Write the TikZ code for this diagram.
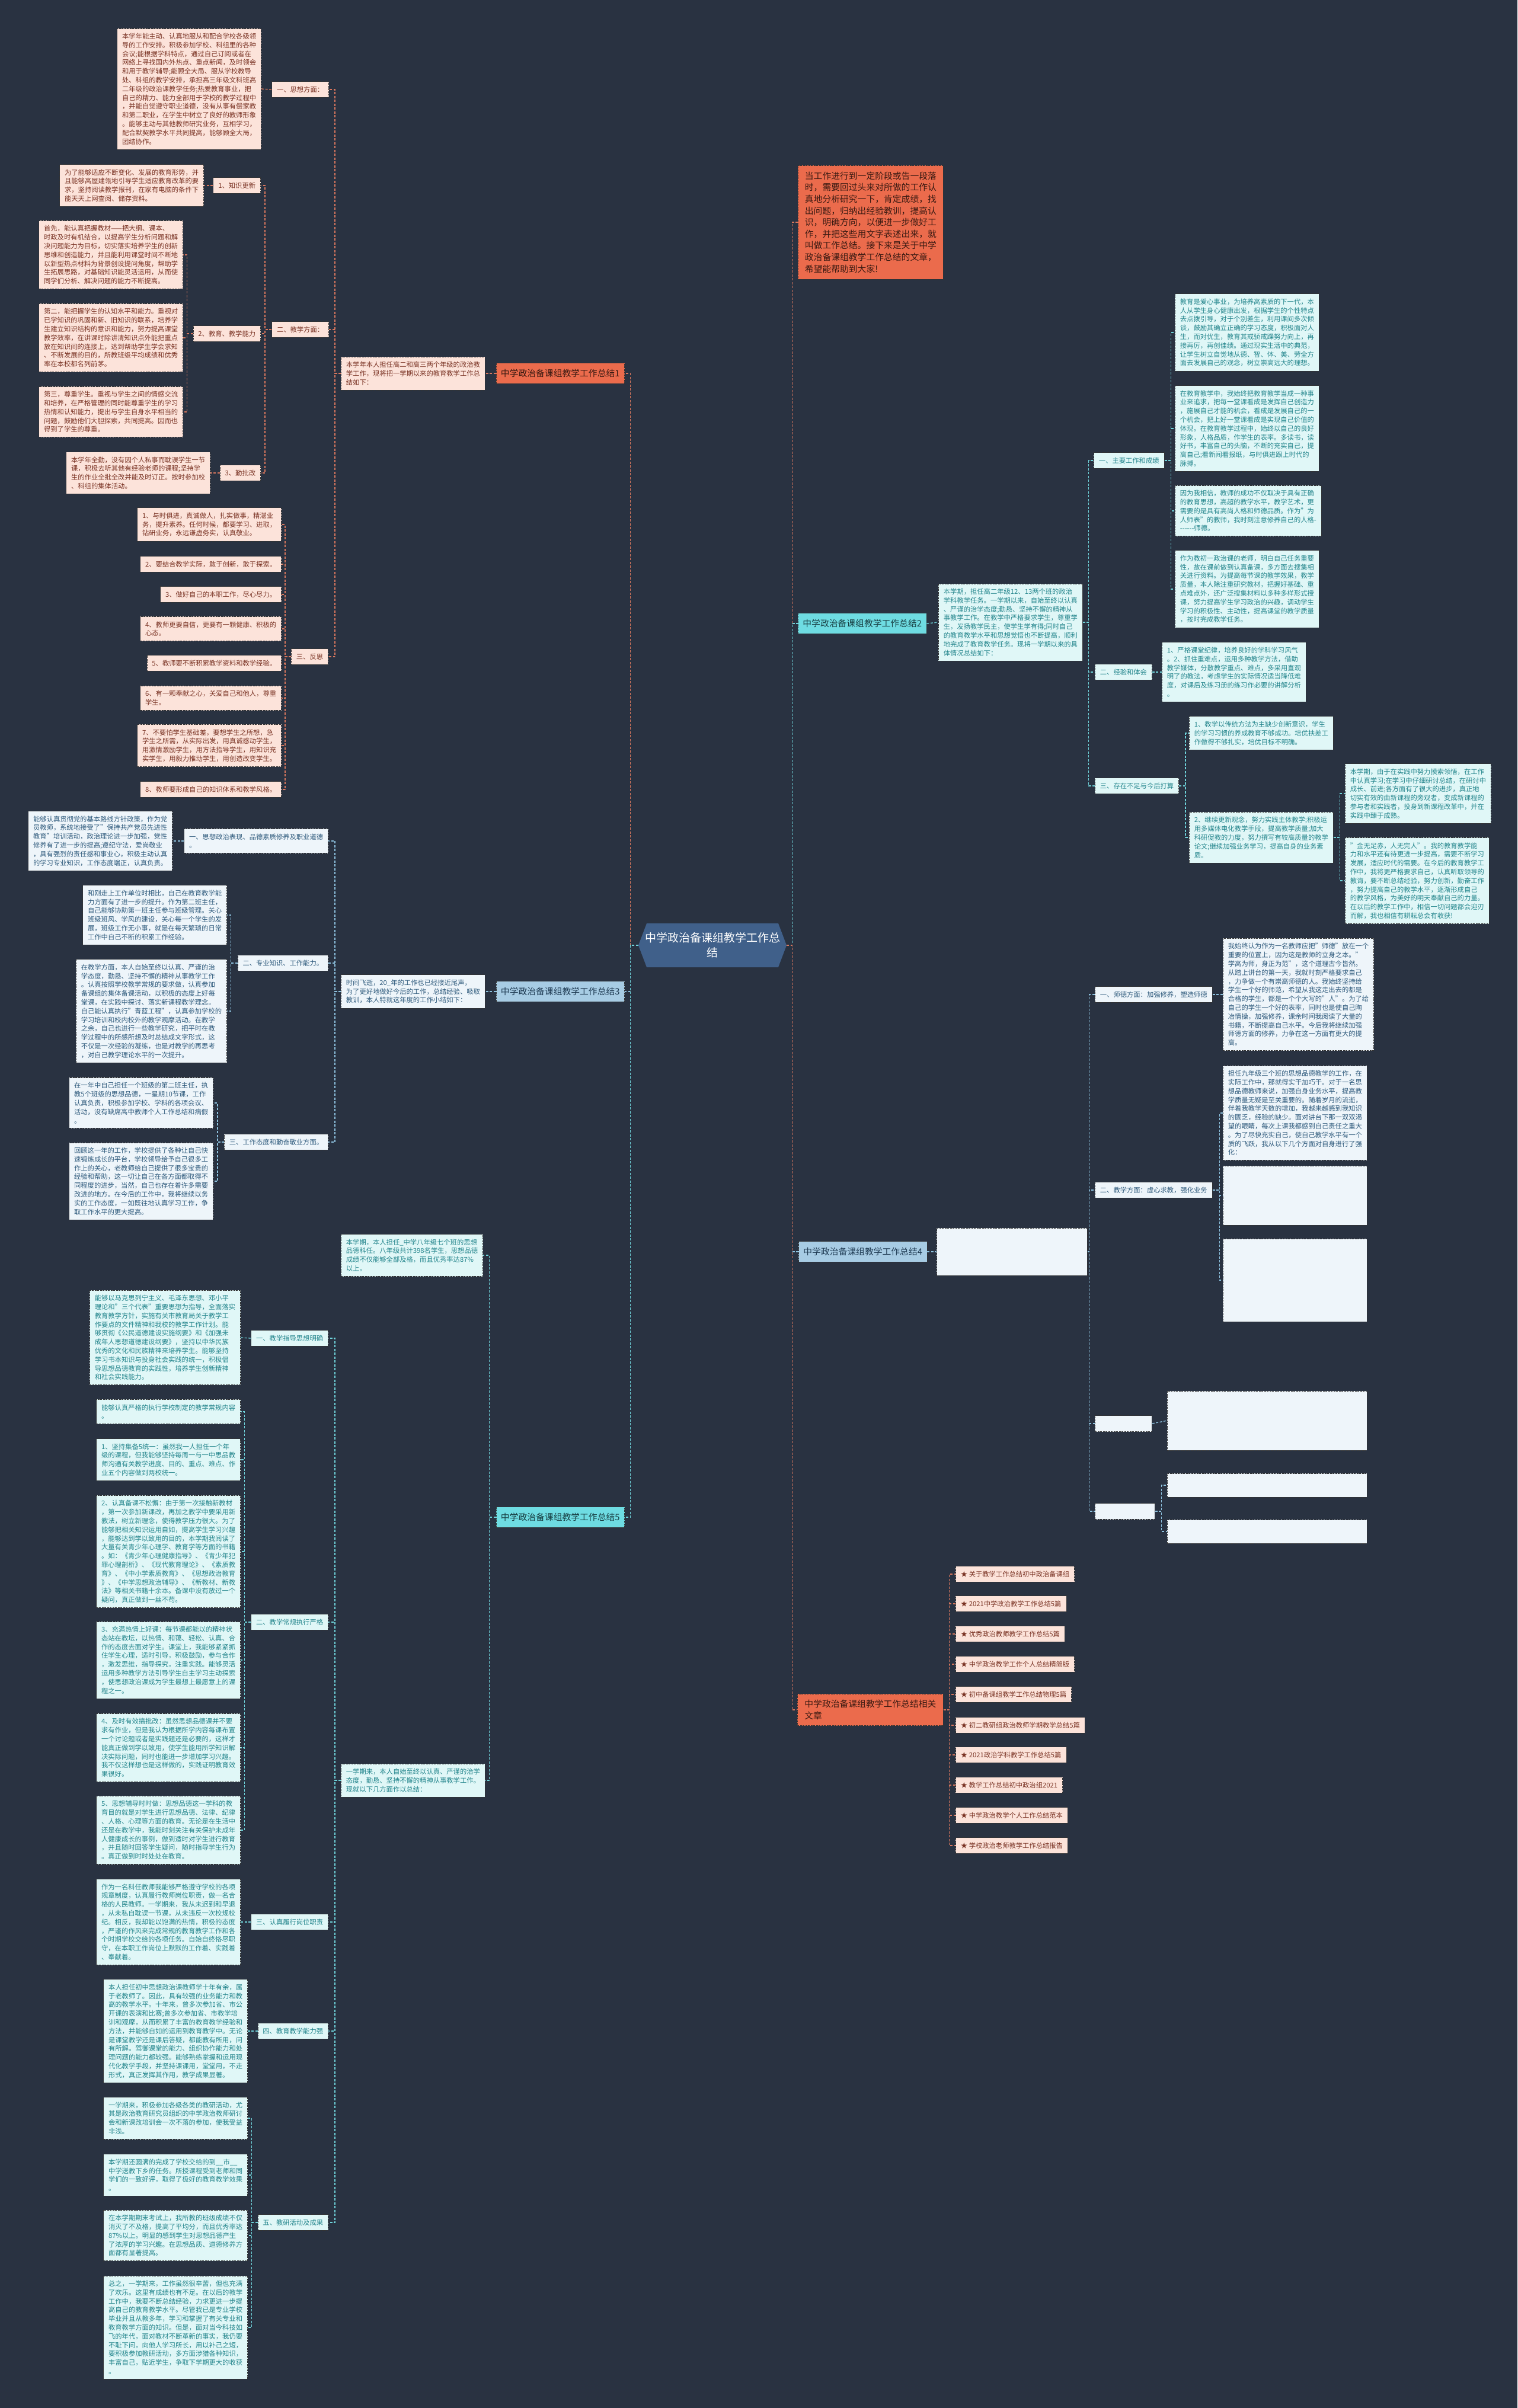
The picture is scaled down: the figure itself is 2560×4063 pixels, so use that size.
\documentclass[tikz,border=0pt]{standalone}
\usepackage{fontspec}
\setmainfont{Noto Sans CJK SC}
\definecolor{bg}{HTML}{293241}
\definecolor{oLabel}{HTML}{EB6B4C}
\definecolor{oFill}{HTML}{FCE3DA}
\definecolor{oText}{HTML}{7A3324}
\definecolor{oDark}{HTML}{3A1A12}
\definecolor{oLine}{HTML}{D9775E}
\definecolor{bLabel}{HTML}{A7CCE4}
\definecolor{bFill}{HTML}{EEF5FA}
\definecolor{bText}{HTML}{2E5A7C}
\definecolor{bDark}{HTML}{1E3A52}
\definecolor{bLine}{HTML}{8EC3E0}
\definecolor{cLabel}{HTML}{6EDCE2}
\definecolor{cFill}{HTML}{E0F7F7}
\definecolor{cText}{HTML}{23858C}
\definecolor{cDark}{HTML}{183E42}
\definecolor{cLine}{HTML}{6FD3DA}
\definecolor{cenFill}{HTML}{40608A}
\tikzset{
 base/.style={rectangle, draw=black!80, dash pattern=on 3pt off 1.5pt, line width=0.8pt, align=left, inner xsep=8.5pt, inner ysep=8pt, font=\fontsize{11.3}{14.8}\selectfont},
 ob/.style={base, fill=oFill, text=oText},
 bb/.style={base, fill=bFill, text=bText},
 cb/.style={base, fill=cFill, text=cText},
 bigO/.style={base, fill=oLabel, text=oDark, font=\fontsize{14.8}{19.6}\selectfont, inner xsep=8pt, inner ysep=10.5pt},
 bigB/.style={base, fill=bLabel, text=bDark, font=\fontsize{14.8}{19.6}\selectfont, inner xsep=8pt, inner ysep=10.5pt},
 bigC/.style={base, fill=cLabel, text=cDark, font=\fontsize{14.8}{19.6}\selectfont, inner xsep=8pt, inner ysep=10.5pt},
 ol/.style={draw=oLine, line width=1.3pt, dash pattern=on 4pt off 2.5pt},
 bl/.style={draw=bLine, line width=1.3pt, dash pattern=on 4pt off 2.5pt},
 cl/.style={draw=cLine, line width=1.3pt, dash pattern=on 4pt off 2.5pt},
 centre/.style={rectangle, minimum width=250pt, minimum height=74pt, text=white, align=center, font=\fontsize{19}{25}\selectfont,
   path picture={\fill[cenFill] ([xshift=14pt]path picture bounding box.north west) -- ([xshift=-14pt]path picture bounding box.north east) -- (path picture bounding box.east) -- ([xshift=-14pt]path picture bounding box.south east) -- ([xshift=14pt]path picture bounding box.south west) -- (path picture bounding box.west) -- cycle;}}
}
\begin{document}
\begin{tikzpicture}[x=1pt,y=-1pt]
\useasboundingbox (0,0) rectangle (2560,4063);
\fill[bg] (0,0) rectangle (2560,4063);

% centre
\node[centre] (cen) at (1202,1595) {中学政治备课组教学工作总\\结};

% ===== Branch 1 =====
\node[bigO, anchor=east] (b1) at (1054,630) {中学政治备课组教学工作总结1};
\node[ob, anchor=west] (b1d) at (575,630) {本学年本人担任高二和高三两个年级的政治教\\学工作，现将把一学期以来的教育教学工作总\\结如下：};
\node[ob, anchor=east] (o1) at (555,151) {一、思想方面：};
\node[ob, anchor=east] (o1a) at (441,150) {本学年能主动、认真地服从和配合学校各级领\\导的工作安排。积极参加学校、科组里的各种\\会议;能根据学科特点，通过自己订阅或者在\\网络上寻找国内外热点、重点新闻，及时领会\\和用于教学辅导;能顾全大局、服从学校教导\\处、科组的教学安排，承担高三年级文科班高\\二年级的政治课教学任务;热爱教育事业，把\\自己的精力、能力全部用于学校的教学过程中\\，并能自觉遵守职业道德，没有从事有偿家教\\和第二职业，在学生中树立了良好的教师形象\\。能够主动与其他教师研究业务，互相学习，\\配合默契教学水平共同提高，能够顾全大局，\\团结协作。};
\node[ob, anchor=east] (o2) at (555,556) {二、教学方面：};
\node[ob, anchor=east] (o21) at (440,313) {1、知识更新};
\node[ob, anchor=east] (o21a) at (344,313) {为了能够适应不断变化、发展的教育形势，并\\且能够高屋建瓴地引导学生适应教育改革的要\\求，坚持阅读教学报刊，在家有电脑的条件下\\能天天上网查阅、储存资料。};
\node[ob, anchor=east] (o22) at (440,563) {2、教育、教学能力};
\node[ob, anchor=east] (o22a) at (309,430) {首先，能认真把握教材——把大纲、课本、\\时政及时有机结合，以提高学生分析问题和解\\决问题能力为目标，切实落实培养学生的创新\\思维和创造能力，并且能利用课堂时间不断地\\以新型热点材料为背景创设提问角度，帮助学\\生拓展思路，对基础知识能灵活运用，从而使\\同学们分析、解决问题的能力不断提高。};
\node[ob, anchor=east] (o22b) at (309,570) {第二，能把握学生的认知水平和能力。重视对\\已学知识的巩固和新、旧知识的联系，培养学\\生建立知识结构的意识和能力，努力提高课堂\\教学效率，在讲课时除讲清知识点外能把重点\\放在知识间的连接上，达到帮助学生学会求知\\、不断发展的目的，所教班级平均成绩和优秀\\率在本校都名列前茅。};
\node[ob, anchor=east] (o22c) at (309,695) {第三，尊重学生。重视与学生之间的情感交流\\和培养，在严格管理的同时能尊重学生的学习\\热情和认知能力，提出与学生自身水平相当的\\问题，鼓励他们大胆探索，共同提高。因而也\\得到了学生的尊重。};
\node[ob, anchor=east] (o23) at (440,798) {3、勤批改};
\node[ob, anchor=east] (o23a) at (355,798) {本学年全勤，没有因个人私事而耽误学生一节\\课，积极去听其他有经验老师的课程;坚持学\\生的作业全批全改并能及时订正。按时参加校\\、科组的集体活动。};
\node[ob, anchor=east] (o3) at (554,1108) {三、反思};
\node[ob, anchor=east] (r1) at (475,885) {1、与时俱进，真诚做人，扎实做事，精湛业\\务，提升素养。任何时候，都要学习、进取，\\钻研业务，永远谦虚务实，认真敬业。};
\node[ob, anchor=east] (r2) at (475,952) {2、要结合教学实际，敢于创新，敢于探索。};
\node[ob, anchor=east] (r3) at (475,1003) {3、做好自己的本职工作，尽心尽力。};
\node[ob, anchor=east] (r4) at (475,1061) {4、教师更要自信，更要有一颗健康、积极的\\心态。};
\node[ob, anchor=east] (r5) at (475,1119) {5、教师要不断积累教学资料和教学经验。};
\node[ob, anchor=east] (r6) at (475,1178) {6、有一颗奉献之心，关爱自己和他人，尊重\\学生。};
\node[ob, anchor=east] (r7) at (475,1258) {7、不要怕学生基础差，要想学生之所想，急\\学生之所需，从实际出发，用真诚感动学生，\\用激情激励学生，用方法指导学生，用知识充\\实学生，用毅力推动学生，用创造改变学生。};
\node[ob, anchor=east] (r8) at (475,1332) {8、教师要形成自己的知识体系和教学风格。};

\draw[ol] (cen.west) -- ++(-13,0) |- (b1.east);
\draw[ol] (b1.west) -- (b1d.east);
\foreach \n in {o1,o2,o3} \draw[ol] (b1d.west) -- ++(-10,0) |- (\n.east);
\draw[ol] (o1.west) -- (o1a.east);
\foreach \n in {o21,o22,o23} \draw[ol] (o2.west) -- ++(-11,0) |- (\n.east);
\draw[ol] (o21.west) -- (o21a.east);
\foreach \n in {o22a,o22b,o22c} \draw[ol] (o22.west) -- ++(-10,0) |- (\n.east);
\draw[ol] (o23.west) -- (o23a.east);
\foreach \n in {r1,r2,r3,r4,r5,r6,r7,r8} \draw[ol] (o3.west) -- ++(-10,0) |- (\n.east);

% ===== Branch 3 =====
\node[bigB, anchor=east] (b3) at (1054,1673) {中学政治备课组教学工作总结3};
\node[bb, anchor=west] (b3d) at (575,1673) {时间飞逝，20\_年的工作也已经接近尾声，\\为了更好地做好今后的工作，总结经验、吸取\\教训，本人特就这年度的工作小结如下：};
\node[bb, anchor=east] (t1) at (554,1419) {一、思想政治表现、品德素质修养及职业道德\\。};
\node[bb, anchor=east] (t1a) at (291,1419) {能够认真贯彻党的基本路线方针政策，作为党\\员教师，系统地接受了"保持共产党员先进性\\教育"培训活动，政治理论进一步加强，党性\\修养有了进一步的提高;遵纪守法，爱岗敬业\\，具有强烈的责任感和事业心，积极主动认真\\的学习专业知识，工作态度端正，认真负责。};
\node[bb, anchor=east] (t2) at (554,1625) {二、专业知识、工作能力。};
\node[bb, anchor=east] (t2a) at (383,1544) {和刚走上工作单位时相比，自己在教育教学能\\力方面有了进一步的提升。作为第二班主任，\\自己能够协助第一班主任参与班级管理。关心\\班级班风、学风的建设，关心每一个学生的发\\展，班级工作无小事，就是在每天繁琐的日常\\工作中自己不断的积累工作经验。};
\node[bb, anchor=east] (t2b) at (383,1706) {在教学方面，本人自始至终以认真、严谨的治\\学态度，勤恳、坚持不懈的精神从事教学工作\\。认真按照学校教学常规的要求做，认真参加\\备课组的集体备课活动，以积极的态度上好每\\堂课，在实践中探讨、落实新课程教学理念。\\自己能认真执行"青蓝工程"，认真参加学校的\\学习培训和校内校外的教学观摩活动。在教学\\之余，自己也进行一些教学研究，把平时在教\\学过程中的所感所想及时总结成文字形式，这\\不仅是一次经验的凝练，也是对教学的再思考\\，对自己教学理论水平的一次提升。};
\node[bb, anchor=east] (t3) at (554,1927) {三、工作态度和勤奋敬业方面。};
\node[bb, anchor=east] (t3a) at (360,1861) {在一年中自己担任一个班级的第二班主任，执\\教5个班级的思想品德，一星期10节课，工作\\认真负责，积极参加学校、学科的各项会议、\\活动，没有缺席高中教师个人工作总结和病假\\。};
\node[bb, anchor=east] (t3b) at (360,1993) {回顾这一年的工作，学校提供了各种让自己快\\速锻炼成长的平台，学校领导给予自己很多工\\作上的关心，老教师给自己提供了很多宝贵的\\经验和帮助，这一切让自己在各方面都取得不\\同程度的进步，当然，自己也存在着许多需要\\改进的地方。在今后的工作中，我将继续以务\\实的工作态度，一如既往地认真学习工作，争\\取工作水平的更大提高。};

\draw[bl] (cen.west) -- ++(-13,0) |- (b3.east);
\draw[bl] (b3.west) -- (b3d.east);
\foreach \n in {t1,t2,t3} \draw[bl] (b3d.west) -- ++(-10,0) |- (\n.east);
\draw[bl] (t1.west) -- (t1a.east);
\foreach \n in {t2a,t2b} \draw[bl] (t2.west) -- ++(-11,0) |- (\n.east);
\foreach \n in {t3a,t3b} \draw[bl] (t3.west) -- ++(-11,0) |- (\n.east);

% ===== Branch 5 =====
\node[bigC, anchor=east] (b5) at (1054,2560) {中学政治备课组教学工作总结5};
\node[cb, anchor=west] (b5d1) at (575,2118) {本学期，本人担任\_中学八年级七个班的思想\\品德科任。八年级共计398名学生，思想品德\\成绩不仅能够全部及格，而且优秀率达87\%\\以上。};
\node[cb, anchor=west] (b5d2) at (575,3004) {一学期来，本人自始至终以认真、严谨的治学\\态度，勤恳、坚持不懈的精神从事教学工作。\\现就以下几方面作以总结：};
\node[cb, anchor=east] (f1) at (554,2258) {一、教学指导思想明确};
\node[cb, anchor=east] (f1a) at (406,2257) {能够以马克思列宁主义、毛泽东思想、邓小平\\理论和"三个代表"重要思想为指导，全面落实\\教育教学方针，实施有关市教育局关于教学工\\作要点的文件精神和我校的教学工作计划。能\\够贯彻《公民道德建设实施纲要》和《加强未\\成年人思想道德建设纲要》，坚持以中华民族\\优秀的文化和民族精神来培养学生。能够坚持\\学习书本知识与投身社会实践的统一，积极倡\\导思想品德教育的实践性，培养学生创新精神\\和社会实践能力。};
\node[cb, anchor=east] (f2) at (554,2737) {二、教学常规执行严格};
\node[cb, anchor=east] (f2a) at (406,2382) {能够认真严格的执行学校制定的教学常规内容\\。};
\node[cb, anchor=east] (f2b) at (406,2463) {1、坚持集备5统一：虽然我一人担任一个年\\级的课程，但我能够坚持每周一与一中思品教\\师沟通有关教学进度、目的、重点、难点、作\\业五个内容做到两校统一。};
\node[cb, anchor=east] (f2c) at (406,2618) {2、认真备课不松懈：由于第一次接触新教材\\，第一次参加新课改，再加之教学中要采用新\\教法，树立新理念，使得教学压力很大。为了\\能够把相关知识运用自如，提高学生学习兴趣\\，能够达到学以致用的目的，本学期我阅读了\\大量有关青少年心理学、教育学等方面的书籍\\。如：《青少年心理健康指导》、《青少年犯\\罪心理剖析》、《现代教育理论》、《素质教\\育》、《中小学素质教育》、《思想政治教育\\》、《中学思想政治辅导》、《新教材、新教\\法》等相关书籍十余本。备课中没有放过一个\\疑问，真正做到一丝不苟。};
\node[cb, anchor=east] (f2d) at (406,2801) {3、充满热情上好课：每节课都能以的精神状\\态站在教坛，以热情、和蔼、轻松、认真、合\\作的态度去面对学生。课堂上，我能够紧紧抓\\住学生心理，适时引导，积极鼓励，参与合作\\，激发思维，指导探究，注重实践。能够灵活\\运用多种教学方法引导学生自主学习主动探索\\，使思想政治课成为学生最想上最愿意上的课\\程之一。};
\node[cb, anchor=east] (f2e) at (406,2949) {4、及时有效搞批改：虽然思想品德课并不要\\求有作业，但是我认为根据所学内容每课布置\\一个讨论题或者是实践题还是必要的，这样才\\能真正做到学以致用，使学生能用所学知识解\\决实际问题，同时也能进一步增加学习兴趣。\\我不仅这样想也是这样做的，实践证明教育效\\果很好。};
\node[cb, anchor=east] (f2f) at (406,3088) {5、思想辅导时时做：思想品德这一学科的教\\育目的就是对学生进行思想品德、法律、纪律\\、人格、心理等方面的教育。无论是在生活中\\还是在教学中，我能时刻关注有关保护未成年\\人健康成长的事例，做到适时对学生进行教育\\，并且随时回答学生疑问，随时指导学生行为\\。真正做到时时处处在教育。};
\node[cb, anchor=east] (f3) at (554,3243) {三、认真履行岗位职责};
\node[cb, anchor=east] (f3a) at (406,3243) {作为一名科任教师我能够严格遵守学校的各项\\规章制度，认真履行教师岗位职责，做一名合\\格的人民教师。一学期来，我从未迟到和早退\\，从未私自耽误一节课，从未违反一次校规校\\纪。相反，我却能以饱满的热情，积极的态度\\，严谨的作风来完成常规的教育教学工作和各\\个时期学校交给的各项任务。自始自终恪尽职\\守，在本职工作岗位上默默的工作着、实践着\\、奉献着。};
\node[cb, anchor=east] (f4) at (554,3427) {四、教育教学能力强};
\node[cb, anchor=east] (f4a) at (418,3427) {本人担任初中思想政治课教师学十年有余，属\\于老教师了。因此，具有较强的业务能力和教\\高的教学水平。十年来，曾多次参加省、市公\\开课的表演和比赛;曾多次参加省、市教学培\\训和观摩，从而积累了丰富的教育教学经验和\\方法，并能够自如的运用到教育教学中。无论\\是课堂教学还是课后答疑，都能教有所用，问\\有所解。驾御课堂的能力、组织协作能力和处\\理问题的能力都较强。能够熟练掌握和运用现\\代化教学手段，并坚持课课用，堂堂用，不走\\形式，真正发挥其作用，教学成果显著。};
\node[cb, anchor=east] (f5) at (554,3750) {五、教研活动及成果};
\node[cb, anchor=east] (f5a) at (418,3574) {一学期来，积极参加各级各类的教研活动，尤\\其是政治教育研究员组织的中学政治教师研讨\\会和新课改培训会一次不落的参加，使我受益\\非浅。};
\node[cb, anchor=east] (f5b) at (418,3670) {本学期还圆满的完成了学校交给的到\_\_市\_\_\\中学送教下乡的任务。所授课程受到老师和同\\学们的一致好评，取得了极好的教育教学效果\\。};
\node[cb, anchor=east] (f5c) at (418,3772) {在本学期期末考试上，我所教的班级成绩不仅\\消灭了不及格，提高了平均分，而且优秀率达\\87\%以上。明显的感到学生对思想品德产生\\了浓厚的学习兴趣。在思想品质、道德修养方\\面都有显著提高。};
\node[cb, anchor=east] (f5d) at (418,3927) {总之，一学期来，工作虽然很辛苦，但也充满\\了欢乐。这里有成绩也有不足。在以后的教学\\工作中，我要不断总结经验，力求更进一步提\\高自己的教育教学水平。尽管我已是专业学校\\毕业并且从教多年，学习和掌握了有关专业和\\教育教学方面的知识。但是，面对当今科技如\\飞的年代，面对教材不断革新的事实，我仍要\\不耻下问，向他人学习所长，用以补己之短，\\要积极参加教研活动，多方面涉猎各种知识，\\丰富自己，贴近学生，争取下学期更大的收获\\。};

\draw[cl] (cen.west) -- ++(-13,0) |- (b5.east);
\foreach \n in {b5d1,b5d2} \draw[cl] (b5.west) -- ++(-11,0) |- (\n.east);
\foreach \n in {f1,f2,f3,f4,f5} \draw[cl] (b5d2.west) -- ++(-10,0) |- (\n.east);
\draw[cl] (f1.west) -- (f1a.east);
\foreach \n in {f2a,f2b,f2c,f2d,f2e,f2f} \draw[cl] (f2.west) -- ++(-11,0) |- (\n.east);
\draw[cl] (f3.west) -- (f3a.east);
\draw[cl] (f4.west) -- (f4a.east);
\foreach \n in {f5a,f5b,f5c,f5d} \draw[cl] (f5.west) -- ++(-10,0) |- (\n.east);

% ===== Right: intro =====
\node[bigO, anchor=west, inner xsep=11.5pt, inner ysep=10.7pt] (intro) at (1346,375) {当工作进行到一定阶段或告一段落\\时，需要回过头来对所做的工作认\\真地分析研究一下，肯定成绩，找\\出问题，归纳出经验教训，提高认\\识，明确方向，以便进一步做好工\\作，并把这些用文字表述出来，就\\叫做工作总结。接下来是关于中学\\政治备课组教学工作总结的文章，\\希望能帮助到大家!};
\draw[ol] (cen.east) -- ++(9,0) |- (intro.west);

% ===== Branch 2 =====
\node[bigC, anchor=west] (b2) at (1346,1052) {中学政治备课组教学工作总结2};
\node[cb, anchor=west] (b2d) at (1583,1050) {本学期，担任高二年级12、13两个班的政治\\学科教学任务。一学期以来，自始至终以认真\\、严谨的治学态度;勤恳、坚持不懈的精神从\\事教学工作。在教学中严格要求学生，尊重学\\生，发扬教学民主，使学生学有得;同时自己\\的教育教学水平和思想觉悟也不断提高，顺利\\地完成了教育教学任务。现将一学期以来的具\\体情况总结如下：};
\node[cb, anchor=west] (s1) at (1845,777) {一、主要工作和成绩};
\node[cb, anchor=west] (s1a) at (1982,561) {教育是爱心事业，为培养高素质的下一代，本\\人从学生身心健康出发，根据学生的个性特点\\去点拨引导，对于个别差生，利用课间多次倾\\谈，鼓励其确立正确的学习态度，积极面对人\\生，而对优生，教育其戒骄戒躁努力向上，再\\接再厉，再创佳绩。通过现实生活中的典范，\\让学生树立自觉地从德、智、体、美、劳全方\\面去发展自己的观念，树立崇高远大的理想。};
\node[cb, anchor=west] (s1b) at (1982,723) {在教育教学中，我始终把教育教学当成一种事\\业来追求，把每一堂课看成是发挥自己创造力\\，施展自己才能的机会，看成是发展自己的一\\个机会，把上好一堂课看成是实现自己价值的\\体现。在教育教学过程中，始终以自己的良好\\形象，人格品质，作学生的表率。多读书，读\\好书，丰富自己的头脑，不断的充实自己，提\\高自己;看新闻看报纸，与时俱进跟上时代的\\脉搏。};
\node[cb, anchor=west] (s1c) at (1982,862) {因为我相信，教师的成功不仅取决于具有正确\\的教育思想，高超的教学水平，教学艺术，更\\需要的是具有高尚人格和师德品质。作为"为\\人师表"的教师，我时刻注意修养自己的人格-\\-{}-{}-{}-{}-{}-师德。};
\node[cb, anchor=west] (s1d) at (1982,994) {作为教初一政治课的老师，明白自己任务重要\\性，故在课前做到认真备课，多方面去搜集相\\关进行资料。为提高每节课的教学效果，教学\\质量，本人除注重研究教材，把握好基础、重\\点难点外，还广泛搜集材料以多种多样形式授\\课，努力提高学生学习政治的兴趣，调动学生\\学习的积极性、主动性，提高课堂的教学质量\\，按时完成教学任务。};
\node[cb, anchor=west] (s2) at (1847,1134) {二、经验和体会};
\node[cb, anchor=west] (s2a) at (1960,1134) {1、严格课堂纪律，培养良好的学科学习风气\\。2、抓住重难点，运用多种教学方法，借助\\教学媒体，分散教学重点、难点，多采用直观\\明了的教法，考虑学生的实际情况适当降低难\\度，对课后及练习册的练习作必要的讲解分析\\。};
\node[cb, anchor=west] (s3) at (1847,1326) {三、存在不足与今后打算};
\node[cb, anchor=west] (s3a) at (2006,1237) {1、教学以传统方法为主缺少创新意识，学生\\的学习习惯的养成教育不够成功。培优扶差工\\作做得不够扎实，培优目标不明确。};
\node[cb, anchor=west] (s3b) at (2006,1413) {2、继续更新观念，努力实践主体教学;积极运\\用多媒体电化教学手段，提高教学质量;加大\\科研促教的力度，努力撰写有较高质量的教学\\论文;继续加强业务学习，提高自身的业务素\\质。};
\node[cb, anchor=west] (s3b1) at (2269,1339) {本学期，由于在实践中努力摸索领悟，在工作\\中认真学习;在学习中仔细研讨总结，在研讨中\\成长、前进;各方面有了很大的进步，真正地\\切实有效的由新课程的旁观者，变成新课程的\\参与者和实践者，投身到新课程改革中，并在\\实践中臻于成熟。};
\node[cb, anchor=west] (s3b2) at (2269,1486) {"金无足赤，人无完人"。我的教育教学能\\力和水平还有待更进一步提高，需要不断学习\\发展，适应时代的需要。在今后的教育教学工\\作中，我将更严格要求自己，认真听取领导的\\教诲，要不断总结经验，努力创新，勤奋工作\\，努力提高自己的教学水平，逐渐形成自己\\的教学风格，为美好的明天奉献自己的力量。\\在以后的教学工作中，相信一切问题都会迎刃\\而解，我也相信有耕耘总会有收获!};

\draw[cl] (cen.east) -- ++(9,0) |- (b2.west);
\draw[cl] (b2.east) -- (b2d.west);
\foreach \n in {s1,s2,s3} \draw[cl] (b2d.east) -- ++(10,0) |- (\n.west);
\foreach \n in {s1a,s1b,s1c,s1d} \draw[cl] (s1.east) -- ++(11,0) |- (\n.west);
\draw[cl] (s2.east) -- (s2a.west);
\foreach \n in {s3a,s3b} \draw[cl] (s3.east) -- ++(11,0) |- (\n.west);
\foreach \n in {s3b1,s3b2} \draw[cl] (s3b.east) -- ++(11,0) |- (\n.west);

% ===== Branch 4 =====
\node[bigB, anchor=west] (b4) at (1347,2112) {中学政治备课组教学工作总结4};
\node[bb, anchor=west, minimum width=254pt, minimum height=80pt] (b4d) at (1580,2112) {};
\node[bb, anchor=west] (u1) at (1847,1678) {一、师德方面：加强修养，塑造师德};
\node[bb, anchor=west] (u1a) at (2063,1678) {我始终认为作为一名教师应把"师德"放在一个\\重要的位置上，因为这是教师的立身之本。"\\学高为师，身正为范"，这个道理古今皆然。\\从踏上讲台的第一天，我就时刻严格要求自己\\，力争做一个有崇高师德的人。我始终坚持给\\学生一个好的师范，希望从我这走出去的都是\\合格的学生，都是一个个大写的"人"。为了给\\自己的学生一个好的表率，同时也是使自己陶\\冶情操，加强修养，课余时间我阅读了大量的\\书籍，不断提高自己水平。今后我将继续加强\\师德方面的修养，力争在这一方面有更大的提\\高。};
\node[bb, anchor=west] (u2) at (1847,2008) {二、教学方面：虚心求教，强化业务};
\node[bb, anchor=west] (u2a) at (2063,1878) {担任九年级三个班的思想品德教学的工作，在\\实际工作中，那就得实干加巧干。对于一名思\\想品德教师来说，加强自身业务水平，提高教\\学质量无疑是至关重要的。随着岁月的流逝，\\伴着我教学天数的增加，我越来越感到我知识\\的匮乏，经验的缺少。面对讲台下那一双双渴\\望的眼睛，每次上课我都感到自己责任之重大\\。为了尽快充实自己，使自己教学水平有一个\\质的飞跃，我从以下几个方面对自身进行了强\\化：};
\node[bb, anchor=west, minimum width=243pt, minimum height=100pt] (u2b) at (2063,2017) {};
\node[bb, anchor=west, minimum width=243pt, minimum height=140pt] (u2c) at (2063,2160) {};
\node[bb, anchor=west, minimum width=96pt, minimum height=27pt] (u3) at (1847,2402) {};
\node[bb, anchor=west, minimum width=337pt, minimum height=100pt] (u3a) at (1969,2397) {};
\node[bb, anchor=west, minimum width=101pt, minimum height=27pt] (u4) at (1847,2550) {};
\node[bb, anchor=west, minimum width=337pt, minimum height=40pt] (u4a) at (1969,2506) {};
\node[bb, anchor=west, minimum width=337pt, minimum height=40pt] (u4b) at (1969,2584) {};
\draw[bl] (cen.east) -- ++(9,0) |- (b4.west);
\draw[bl] (b4.east) -- (b4d.west);
\foreach \n in {u1,u2,u3,u4} \draw[bl] (b4d.east) -- ++(3,0) |- (\n.west);
\draw[bl] (u1.east) -- (u1a.west);
\foreach \n in {u2a,u2b,u2c} \draw[bl] (u2.east) -- ++(12,0) |- (\n.west);
\draw[bl] (u3.east) -- (u3a.west);
\foreach \n in {u4a,u4b} \draw[bl] (u4.east) -- ++(11,0) |- (\n.west);

% ===== Related =====
\node[bigO, anchor=west, inner xsep=12pt, inner ysep=10pt] (rel) at (1345,2885) {中学政治备课组教学工作总结相关\\文章};
\node[ob, anchor=west] (k1) at (1612,2656) {★ 关于教学工作总结初中政治备课组};
\node[ob, anchor=west] (k2) at (1612,2706) {★ 2021中学政治教学工作总结5篇};
\node[ob, anchor=west] (k3) at (1612,2757) {★ 优秀政治教师教学工作总结5篇};
\node[ob, anchor=west] (k4) at (1612,2808) {★ 中学政治教学工作个人总结精简版};
\node[ob, anchor=west] (k5) at (1612,2859) {★ 初中备课组教学工作总结物理5篇};
\node[ob, anchor=west] (k6) at (1612,2911) {★ 初二教研组政治教师学期教学总结5篇};
\node[ob, anchor=west] (k7) at (1612,2961) {★ 2021政治学科教学工作总结5篇};
\node[ob, anchor=west] (k8) at (1612,3012) {★ 教学工作总结初中政治组2021};
\node[ob, anchor=west] (k9) at (1612,3063) {★ 中学政治教学个人工作总结范本};
\node[ob, anchor=west] (k10) at (1612,3114) {★ 学校政治老师教学工作总结报告};
\draw[ol] (cen.east) -- ++(9,0) |- (rel.west);
\foreach \n in {k1,k2,k3,k4,k5,k6,k7,k8,k9,k10} \draw[ol] (rel.east) -- ++(10,0) |- (\n.west);
\end{tikzpicture}
\end{document}
